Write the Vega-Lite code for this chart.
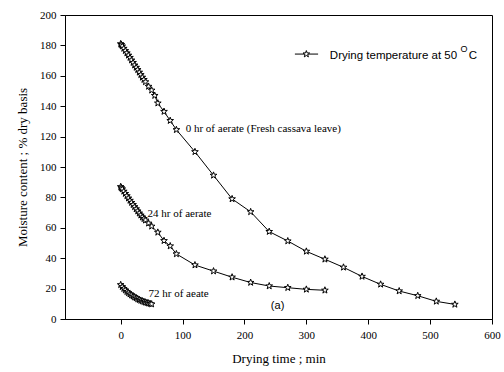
{
  "$schema": "https://vega.github.io/schema/vega-lite/v6.json",
  "width": 427,
  "height": 304,
  "autosize": "none",
  "padding": {"left": 65, "top": 15, "right": 12, "bottom": 53},
  "background": "white",
  "config": {
    "view": {"stroke": "black", "strokeWidth": 1},
    "axis": {
      "grid": false,
      "labelFlush": false,
      "domainColor": "black",
      "tickColor": "black",
      "tickSize": 5,
      "labelFont": "Liberation Serif",
      "labelFontSize": 11,
      "labelColor": "black",
      "titleFont": "Liberation Serif",
      "titleFontSize": 13,
      "titleFontWeight": "normal",
      "titleColor": "black"
    }
  },
  "datasets": {
    "curves": [
      {"series": "0 hr", "time": 0, "moisture": 181},
      {"series": "0 hr", "time": 1, "moisture": 180.5},
      {"series": "0 hr", "time": 2.5, "moisture": 179.5},
      {"series": "0 hr", "time": 5, "moisture": 178},
      {"series": "0 hr", "time": 7.5, "moisture": 176.5},
      {"series": "0 hr", "time": 10, "moisture": 175},
      {"series": "0 hr", "time": 12.5, "moisture": 173.5},
      {"series": "0 hr", "time": 15, "moisture": 172},
      {"series": "0 hr", "time": 17.5, "moisture": 170.3},
      {"series": "0 hr", "time": 20, "moisture": 168.7},
      {"series": "0 hr", "time": 22.5, "moisture": 167},
      {"series": "0 hr", "time": 25, "moisture": 165.5},
      {"series": "0 hr", "time": 27.5, "moisture": 164},
      {"series": "0 hr", "time": 30, "moisture": 162.3},
      {"series": "0 hr", "time": 32.5, "moisture": 160.7},
      {"series": "0 hr", "time": 35, "moisture": 159},
      {"series": "0 hr", "time": 37.5, "moisture": 157.5},
      {"series": "0 hr", "time": 40, "moisture": 156},
      {"series": "0 hr", "time": 45, "moisture": 153},
      {"series": "0 hr", "time": 50, "moisture": 150.5},
      {"series": "0 hr", "time": 55, "moisture": 147},
      {"series": "0 hr", "time": 60, "moisture": 142},
      {"series": "0 hr", "time": 70, "moisture": 136.5},
      {"series": "0 hr", "time": 80, "moisture": 130.5},
      {"series": "0 hr", "time": 90, "moisture": 124.5},
      {"series": "0 hr", "time": 120, "moisture": 110},
      {"series": "0 hr", "time": 150, "moisture": 94.5},
      {"series": "0 hr", "time": 180, "moisture": 79},
      {"series": "0 hr", "time": 210, "moisture": 70.5},
      {"series": "0 hr", "time": 240, "moisture": 57.5},
      {"series": "0 hr", "time": 270, "moisture": 51.3},
      {"series": "0 hr", "time": 300, "moisture": 44.5},
      {"series": "0 hr", "time": 330, "moisture": 39.3},
      {"series": "0 hr", "time": 360, "moisture": 34},
      {"series": "0 hr", "time": 390, "moisture": 28},
      {"series": "0 hr", "time": 420, "moisture": 22.8},
      {"series": "0 hr", "time": 450, "moisture": 18.4},
      {"series": "0 hr", "time": 480, "moisture": 15.3},
      {"series": "0 hr", "time": 510, "moisture": 11.6},
      {"series": "0 hr", "time": 540, "moisture": 9.6},

      {"series": "24 hr", "time": 0, "moisture": 87},
      {"series": "24 hr", "time": 1, "moisture": 86.3},
      {"series": "24 hr", "time": 2.5, "moisture": 85.5},
      {"series": "24 hr", "time": 5, "moisture": 84},
      {"series": "24 hr", "time": 7.5, "moisture": 82.5},
      {"series": "24 hr", "time": 10, "moisture": 81},
      {"series": "24 hr", "time": 12.5, "moisture": 79.5},
      {"series": "24 hr", "time": 15, "moisture": 78},
      {"series": "24 hr", "time": 17.5, "moisture": 76.6},
      {"series": "24 hr", "time": 20, "moisture": 75.2},
      {"series": "24 hr", "time": 22.5, "moisture": 73.8},
      {"series": "24 hr", "time": 25, "moisture": 72.4},
      {"series": "24 hr", "time": 27.5, "moisture": 71},
      {"series": "24 hr", "time": 30, "moisture": 69.6},
      {"series": "24 hr", "time": 32.5, "moisture": 68.3},
      {"series": "24 hr", "time": 35, "moisture": 67},
      {"series": "24 hr", "time": 37.5, "moisture": 66},
      {"series": "24 hr", "time": 40, "moisture": 65},
      {"series": "24 hr", "time": 45, "moisture": 63},
      {"series": "24 hr", "time": 50, "moisture": 61},
      {"series": "24 hr", "time": 60, "moisture": 57},
      {"series": "24 hr", "time": 70, "moisture": 51.5},
      {"series": "24 hr", "time": 80, "moisture": 48},
      {"series": "24 hr", "time": 90, "moisture": 42.8},
      {"series": "24 hr", "time": 120, "moisture": 35.5},
      {"series": "24 hr", "time": 150, "moisture": 31.5},
      {"series": "24 hr", "time": 180, "moisture": 27.5},
      {"series": "24 hr", "time": 210, "moisture": 24},
      {"series": "24 hr", "time": 240, "moisture": 21.7},
      {"series": "24 hr", "time": 270, "moisture": 20.6},
      {"series": "24 hr", "time": 300, "moisture": 19.5},
      {"series": "24 hr", "time": 330, "moisture": 18.9},

      {"series": "72 hr", "time": 0, "moisture": 22.5},
      {"series": "72 hr", "time": 2.5, "moisture": 21.2},
      {"series": "72 hr", "time": 5, "moisture": 20},
      {"series": "72 hr", "time": 7.5, "moisture": 19},
      {"series": "72 hr", "time": 10, "moisture": 18},
      {"series": "72 hr", "time": 12.5, "moisture": 17.2},
      {"series": "72 hr", "time": 15, "moisture": 16.4},
      {"series": "72 hr", "time": 17.5, "moisture": 15.7},
      {"series": "72 hr", "time": 20, "moisture": 15},
      {"series": "72 hr", "time": 22.5, "moisture": 14.4},
      {"series": "72 hr", "time": 25, "moisture": 13.8},
      {"series": "72 hr", "time": 27.5, "moisture": 13.2},
      {"series": "72 hr", "time": 30, "moisture": 12.7},
      {"series": "72 hr", "time": 32.5, "moisture": 12.2},
      {"series": "72 hr", "time": 35, "moisture": 11.8},
      {"series": "72 hr", "time": 37.5, "moisture": 11.4},
      {"series": "72 hr", "time": 40, "moisture": 11},
      {"series": "72 hr", "time": 42.5, "moisture": 10.7},
      {"series": "72 hr", "time": 45, "moisture": 10.4},
      {"series": "72 hr", "time": 47.5, "moisture": 10.1},
      {"series": "72 hr", "time": 50, "moisture": 9.8}
    ],
    "notes": [
      {"time": 105, "moisture": 125, "label": "0 hr of aerate (Fresh cassava leave)"},
      {"time": 43.5, "moisture": 69, "label": "24 hr of aerate"},
      {"time": 45, "moisture": 16.3, "label": "72 hr of aeate"}
    ],
    "panelTag": [
      {"time": 253.5, "moisture": 8.5, "label": "(a)"}
    ],
    "legendLine": [
      {"time": 281.5, "moisture": 174.3},
      {"time": 319, "moisture": 174.3}
    ],
    "legendStar": [
      {"time": 300, "moisture": 174.3}
    ],
    "legendText": [
      {"time": 338, "moisture": 173.3, "label": "Drying temperature at 50"},
      {"time": 562.5, "moisture": 173.3, "label": "C"}
    ],
    "legendSup": [
      {"time": 549, "moisture": 177.5, "label": "O"}
    ]
  },
  "encoding": {
    "x": {
      "field": "time",
      "type": "quantitative",
      "scale": {"domain": [-90, 600], "nice": false, "zero": false},
      "axis": {"values": [0, 100, 200, 300, 400, 500, 600], "title": "Drying time ; min", "orient": "bottom", "labelPadding": 5, "titlePadding": 12}
    },
    "y": {
      "field": "moisture",
      "type": "quantitative",
      "scale": {"domain": [0, 200], "nice": false, "zero": true},
      "axis": {"values": [0, 20, 40, 60, 80, 100, 120, 140, 160, 180, 200], "title": "Moisture content ; % dry basis", "orient": "left", "labelPadding": 4, "titlePadding": 10, "labelOverlap": false}
    }
  },
  "layer": [
    {
      "data": {"name": "curves"},
      "mark": {"type": "line", "color": "black", "strokeWidth": 1},
      "encoding": {
        "detail": {"field": "series", "type": "nominal"}
      }
    },
    {
      "data": {"name": "curves"},
      "mark": {
        "type": "point",
        "shape": "M0,-1L0.235,-0.324L0.951,-0.309L0.38,0.124L0.588,0.809L0,0.4L-0.588,0.809L-0.38,0.124L-0.951,-0.309L-0.235,-0.324Z",
        "size": 49,
        "filled": true,
        "fill": "white",
        "stroke": "black",
        "strokeWidth": 1,
        "opacity": 1
      }
    },
    {
      "data": {"name": "notes"},
      "mark": {"type": "text", "align": "left", "baseline": "middle", "font": "Liberation Serif", "fontSize": 11, "color": "black"},
      "encoding": {"text": {"field": "label", "type": "nominal"}}
    },
    {
      "data": {"name": "panelTag"},
      "mark": {"type": "text", "align": "center", "baseline": "middle", "font": "Liberation Sans", "fontSize": 11, "color": "black"},
      "encoding": {"text": {"field": "label", "type": "nominal"}}
    },
    {
      "data": {"name": "legendLine"},
      "mark": {"type": "line", "color": "black", "strokeWidth": 1}
    },
    {
      "data": {"name": "legendStar"},
      "mark": {
        "type": "point",
        "shape": "M0,-1L0.235,-0.324L0.951,-0.309L0.38,0.124L0.588,0.809L0,0.4L-0.588,0.809L-0.38,0.124L-0.951,-0.309L-0.235,-0.324Z",
        "size": 49,
        "filled": true,
        "fill": "white",
        "stroke": "black",
        "strokeWidth": 1,
        "opacity": 1
      }
    },
    {
      "data": {"name": "legendText"},
      "mark": {"type": "text", "align": "left", "baseline": "middle", "font": "Liberation Sans", "fontSize": 11.5, "color": "black"},
      "encoding": {"text": {"field": "label", "type": "nominal"}}
    },
    {
      "data": {"name": "legendSup"},
      "mark": {"type": "text", "align": "left", "baseline": "middle", "font": "Liberation Sans", "fontSize": 9, "color": "black"},
      "encoding": {"text": {"field": "label", "type": "nominal"}}
    }
  ]
}
